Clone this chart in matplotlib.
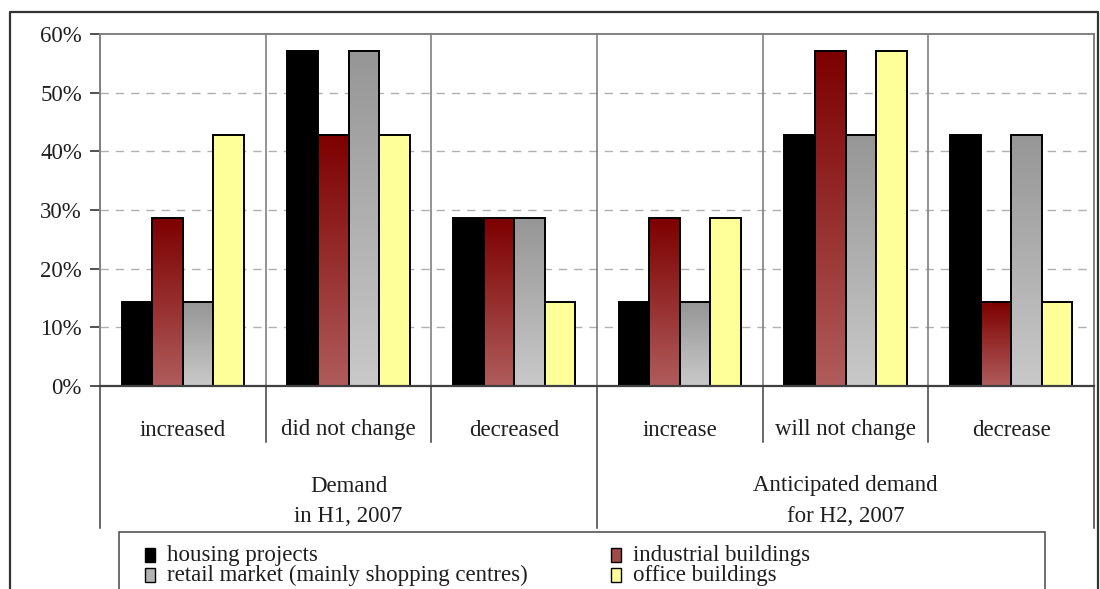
import numpy as np
import matplotlib
matplotlib.use("Agg")
import matplotlib.pyplot as plt
from matplotlib.patches import Rectangle
from matplotlib.lines import Line2D
from matplotlib.colors import LinearSegmentedColormap
from matplotlib.transforms import blended_transform_factory

# ---- data -------------------------------------------------------------
categories = ["increased", "did not change", "decreased",
              "increase", "will not change", "decrease"]
groups = ["Demand\nin H1, 2007", "Anticipated demand\nfor H2, 2007"]
series_names = ["housing projects", "industrial buildings",
                "retail market (mainly shopping centres)", "office buildings"]
housing = [14.29, 57.14, 28.57, 14.29, 42.86, 42.86]
industrial = [28.57, 42.86, 28.57, 28.57, 57.14, 14.29]
retail = [14.29, 57.14, 28.57, 14.29, 42.86, 42.86]
office = [42.86, 42.86, 14.29, 28.57, 57.14, 14.29]
yticks = [0, 10, 20, 30, 40, 50, 60]

# ---- styles -----------------------------------------------------------
W, H = 1100, 589
plt.rcParams["font.family"] = ["Liberation Serif", "DejaVu Serif"]
FS = 16.5
TXT = "#1e1e1e"

fills = [
    ("solid", "#000000"),
    ("grad", ("#7d0000", "#b05c5c")),
    ("grad", ("#969696", "#c9c9c9")),
    ("solid", "#ffff99"),
]

fig = plt.figure(figsize=(W / 100, H / 100), dpi=100)
ax = fig.add_axes([100 / W, 1 - 386 / H, 994 / W, 352 / H])

n_cat = len(categories)
x = np.arange(n_cat)
bar_w = 0.185
offsets = (np.arange(4) - 1.5) * bar_w
all_series = [housing, industrial, retail, office]

for si, (vals, (kind, col)) in enumerate(zip(all_series, fills)):
    xs = x + offsets[si]
    if kind == "solid":
        ax.bar(xs, vals, width=bar_w, color=col, edgecolor="black",
               linewidth=1.4, zorder=3)
    else:
        cmap = LinearSegmentedColormap.from_list("g", [col[1], col[0]])
        grad = np.linspace(0, 1, 256).reshape(-1, 1)
        bars = ax.bar(xs, vals, width=bar_w, color=col[0], edgecolor="none",
                      zorder=2)
        for b in bars:
            x0, y0 = b.get_x(), b.get_y()
            ax.imshow(grad, cmap=cmap, origin="lower", aspect="auto",
                      extent=[x0, x0 + b.get_width(), y0, y0 + b.get_height()],
                      zorder=2.5, interpolation="bilinear")
        ax.bar(xs, vals, width=bar_w, color="none", edgecolor="black",
               linewidth=1.4, zorder=3)

ax.set_xlim(-0.5, n_cat - 0.5)
ax.set_ylim(0, 60)
ax.set_yticks(yticks)
ax.set_yticklabels([f"{v}%" for v in yticks], fontsize=FS, color=TXT)
ax.tick_params(axis="y", length=7, width=1.2, color="#333333", pad=6, direction="out")
ax.set_xticks([])

# dashed horizontal gridlines
for v in yticks[1:-1]:
    ax.axhline(v, color="#b0b0b0", lw=1.0, ls=(0, (6, 5)), zorder=1)
# vertical category separators inside the plot
for i in range(1, n_cat):
    ax.axvline(i - 0.5, color="#808080", lw=1.2, zorder=1)

for side in ["top", "right", "left"]:
    ax.spines[side].set_color("#808080")
    ax.spines[side].set_linewidth(1.4)
ax.spines["bottom"].set_color("#404040")
ax.spines["bottom"].set_linewidth(1.6)
ax.spines["bottom"].set_zorder(4)

# ---- two-level category axis below the plot --------------------------
tr = blended_transform_factory(ax.transData, ax.transAxes)
ax_h = 352.0


def fy(py):
    return (386 - py) / ax_h


for i in range(1, n_cat):
    if i == 3:
        continue
    ax.add_line(Line2D([i - 0.5, i - 0.5], [0, fy(442)], transform=tr,
                       color="#404040", lw=1.1, clip_on=False))
for xv in [-0.5, 2.5, n_cat - 0.5]:
    ax.add_line(Line2D([xv, xv], [0, fy(528)], transform=tr,
                       color="#404040", lw=1.1, clip_on=False))

for i, c in enumerate(categories):
    ax.text(i, fy(430), c, transform=tr, ha="center", va="center",
            fontsize=FS, color=TXT, clip_on=False)
for gi, g in enumerate(groups):
    line1, line2 = g.split("\n")
    gx = 1 + 3 * gi
    ax.text(gx, fy(486), line1, transform=tr, ha="center", va="center",
            fontsize=FS, color=TXT, clip_on=False)
    ax.text(gx, fy(517), line2, transform=tr, ha="center", va="center",
            fontsize=FS, color=TXT, clip_on=False)

# ---- outer chart border ----------------------------------------------
def fx(px):
    return px / W


def fyy(py):
    return 1 - py / H


fig.add_artist(Line2D([fx(10), fx(10), fx(1098), fx(1098)],
                      [fyy(600), fyy(12), fyy(12), fyy(600)],
                      color="#333333", lw=1.6))

# ---- legend ----------------------------------------------------------
fig.add_artist(Rectangle((fx(119), fyy(600)), fx(1045) - fx(119),
                         fyy(532) - fyy(600), facecolor="white",
                         edgecolor="#555555", lw=1.2))
legend_fc = ["#000000", "#a04a4a", "#b4b4b4", "#ffff99"]
pos = [(145, 555), (611, 555), (145, 575), (611, 575)]
for (px, py), name, fc in zip(pos, series_names, legend_fc):
    fig.add_artist(Rectangle((fx(px), fyy(py + 7)), fx(10), (14 / H),
                             facecolor=fc, edgecolor="black", lw=1.0))
    fig.text(fx(px + 22), fyy(py), name, ha="left", va="center",
             fontsize=FS, color=TXT)

fig.savefig("out.png", dpi=100)
